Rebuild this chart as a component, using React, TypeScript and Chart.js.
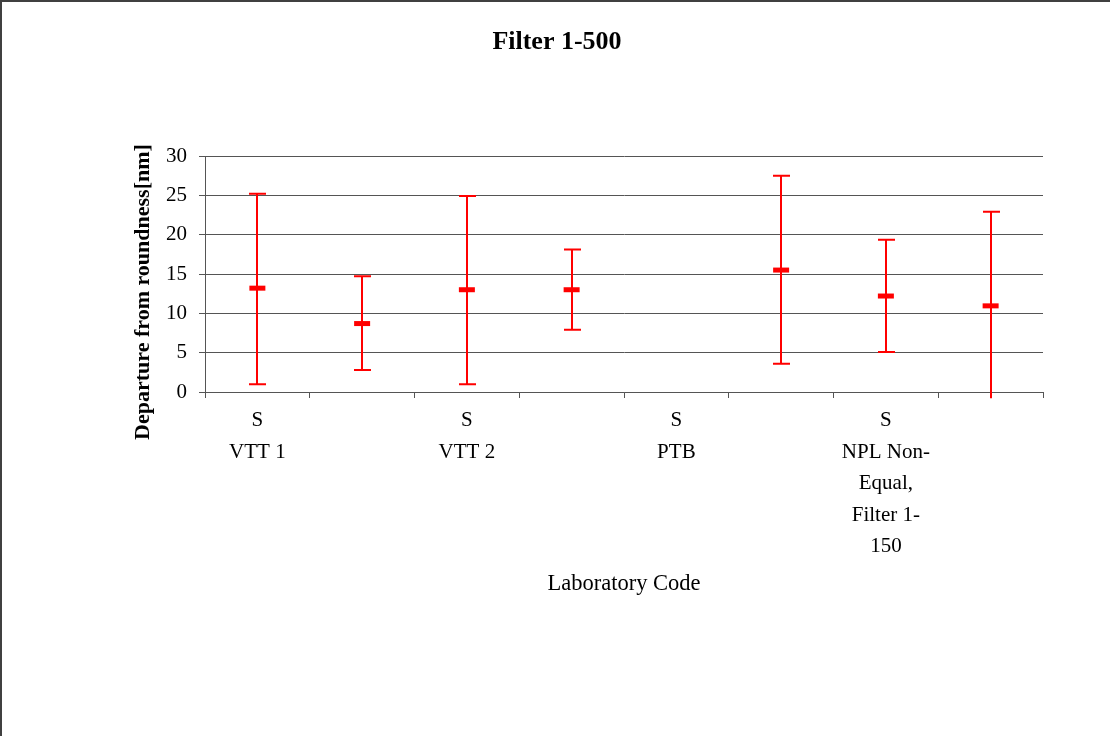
import React, { useEffect, useRef } from 'react';
import { Chart, registerables } from 'chart.js';

Chart.register(...registerables);

// ---- data ----
const categories: (string | string[])[] = [
  ['S', 'VTT 1'],
  '',
  ['S', 'VTT 2'],
  '',
  ['S', 'PTB'],
  '',
  ['S', 'NPL Non-', 'Equal,', 'Filter 1-', '150'],
  '',
];
const centerValues: (number | null)[] = [13.2, 8.7, 13.0, 13.0, null, 15.5, 12.2, 10.95];
const lowValues: (number | null)[] = [1.0, 2.8, 1.0, 7.9, null, 3.6, 5.1, -0.8];
const highValues: (number | null)[] = [25.2, 14.7, 24.9, 18.1, null, 27.5, 19.35, 22.9];
const yMin = 0;
const yMax = 30;
const yStep = 5;

const chartTitle = 'Filter 1-500';
const yTitle = 'Departure from roundness[nm]';
const xTitle = 'Laboratory Code';

const FONT = '"Liberation Serif", "Times New Roman", serif';
const RED = '#ff0000';
const GRID = '#555555';

const errorBarPlugin = {
  id: 'errorBars',
  beforeDatasetsDraw(chart: any) {
    const { ctx } = chart;
    const x = chart.scales.x;
    const y = chart.scales.y;
    ctx.save();
    ctx.strokeStyle = RED;
    ctx.lineWidth = 2;
    for (let i = 0; i < categories.length; i++) {
      const lo = lowValues[i];
      const hi = highValues[i];
      if (lo == null || hi == null) continue;
      const px = Math.round(x.getPixelForValue(i));
      const pTop = y.getPixelForValue(hi);
      const pBot = y.getPixelForValue(lo);
      ctx.beginPath();
      ctx.moveTo(px, pTop);
      ctx.lineTo(px, pBot);
      ctx.moveTo(px - 8, pTop);
      ctx.lineTo(px + 9, pTop);
      if (lo >= y.min) {
        ctx.moveTo(px - 8, pBot);
        ctx.lineTo(px + 9, pBot);
      }
      ctx.stroke();
    }
    ctx.restore();
  },
};

const framePlugin = {
  id: 'frameAndTitles',
  afterDraw(chart: any) {
    const { ctx, chartArea } = chart;
    ctx.save();
    // outer frame (top + left)
    ctx.strokeStyle = '#404040';
    ctx.lineWidth = 2;
    ctx.beginPath();
    ctx.moveTo(0, 1);
    ctx.lineTo(chart.width, 1);
    ctx.moveTo(1, 0);
    ctx.lineTo(1, chart.height);
    ctx.stroke();
    ctx.fillStyle = '#000';
    ctx.textAlign = 'center';
    ctx.textBaseline = 'middle';
    // chart title
    ctx.font = `bold 26px ${FONT}`;
    ctx.fillText(chartTitle, chart.width / 2 + 2, 42);
    // y axis title
    ctx.font = `bold 22px ${FONT}`;
    ctx.translate(143, (chartArea.top + chartArea.bottom) / 2 + 18);
    ctx.rotate(-Math.PI / 2);
    ctx.fillText(yTitle, 0, 0);
    ctx.restore();
  },
};

export default function App() {
  const ref = useRef<HTMLCanvasElement | null>(null);

  useEffect(() => {
    document.body.style.margin = '0';
    const canvas = ref.current;
    if (!canvas) return;
    const chart = new Chart(canvas, {
      type: 'line',
      data: {
        labels: categories as any,
        datasets: [
          {
            data: centerValues as any,
            showLine: false,
            pointStyle: 'line',
            pointRadius: 8,
            pointHoverRadius: 8,
            pointBorderWidth: 5,
            pointHoverBorderWidth: 5,
            pointBorderColor: RED,
            pointBackgroundColor: RED,
            borderColor: RED,
          },
        ],
      },
      options: {
        responsive: false,
        animation: false,
        devicePixelRatio: 1,
        events: [],
        layout: { padding: { left: 0, right: 67, top: 156, bottom: 0 } },
        plugins: {
          legend: { display: false },
          tooltip: { enabled: false },
          title: { display: false },
        },
        scales: {
          x: {
            type: 'category',
            offset: true,
            grid: {
              display: true,
              offset: true,
              drawOnChartArea: false,
              drawTicks: true,
              tickLength: 6,
              color: GRID,
            },
            border: { display: true, color: GRID, width: 1 },
            ticks: {
              autoSkip: false,
              maxRotation: 0,
              minRotation: 0,
              padding: 7,
              color: '#000',
              font: { family: FONT, size: 21, lineHeight: 1.5 },
            },
            title: {
              display: true,
              text: xTitle,
              color: '#000',
              font: { family: FONT, size: 22.5, lineHeight: 1.2 },
              padding: { top: 0, bottom: 138 },
            },
            afterFit(scale: any) {
              scale.height = 344;
            },
          },
          y: {
            type: 'linear',
            min: yMin,
            max: yMax,
            ticks: {
              stepSize: yStep,
              padding: 12,
              color: '#000',
              font: { family: FONT, size: 21 },
            },
            grid: {
              color: GRID,
              lineWidth: 1,
              tickLength: 6,
              drawTicks: true,
            },
            border: { display: true, color: GRID, width: 1 },
            afterFit(scale: any) {
              scale.width = 205;
            },
          },
        },
      },
      plugins: [errorBarPlugin, framePlugin],
    } as any);
    return () => chart.destroy();
  }, []);

  return (
    <div style={{ position: 'absolute', left: 0, top: 0, width: 1110, height: 736, background: '#fff' }}>
      <canvas ref={ref} width={1110} height={736} style={{ display: 'block' }} />
    </div>
  );
}
